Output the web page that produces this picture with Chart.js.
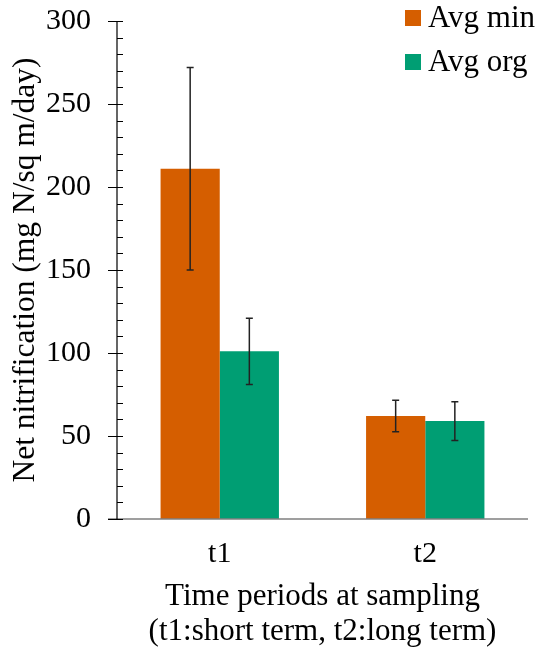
<!DOCTYPE html>
<html>
<head>
<meta charset="utf-8">
<script src="https://cdn.jsdelivr.net/npm/chart.js@4/dist/chart.umd.min.js"></script>
<style>
    body { margin: 0; background: #fff; }
    #wrap { width: 541px; height: 649px; }
</style>
</head>
<body>
<div id="wrap"><canvas id="nitChart"></canvas></div>
<script>
// values
const periods = ['t1', 't2'];
const seriesNames = ['Avg min', 'Avg org'];
const avgMin = [211, 62];
const avgOrg = [101, 59];
const errMin = [61, 9.5];
const errOrg = [20, 11.7];
const yTicks = [0, 50, 100, 150, 200, 250, 300];

const colMin = '#D55E00';
const colOrg = '#009E73';
const serif = "'Liberation Serif', 'Times New Roman', serif";

// error bars on top of the bars
const errorBars = {
    id: 'errorBars',
    afterDatasetsDraw(chart) {
        const ctx = chart.ctx;
        const y = chart.scales.y;
        const errs = [errMin, errOrg];
        ctx.save();
        ctx.strokeStyle = '#222';
        ctx.lineWidth = 1.5;
        chart.data.datasets.forEach((ds, i) => {
            const meta = chart.getDatasetMeta(i);
            meta.data.forEach((bar, j) => {
                const top = y.getPixelForValue(ds.data[j] + errs[i][j]);
                const bot = y.getPixelForValue(ds.data[j] - errs[i][j]);
                ctx.beginPath();
                ctx.moveTo(bar.x, top); ctx.lineTo(bar.x, bot);
                ctx.moveTo(bar.x - 3.5, top); ctx.lineTo(bar.x + 3.5, top);
                ctx.moveTo(bar.x - 3.5, bot); ctx.lineTo(bar.x + 3.5, bot);
                ctx.stroke();
            });
        });
        ctx.restore();
    }
};

// axis lines, major/minor ticks and the legend box
const axisDeco = {
    id: 'axisDeco',
    afterDraw(chart) {
        const ctx = chart.ctx;
        const area = chart.chartArea;
        const y = chart.scales.y;
        ctx.save();
        // x axis line (grey, runs a bit left of the y axis)
        ctx.strokeStyle = '#7f7f7f';
        ctx.lineWidth = 1.5;
        ctx.beginPath();
        ctx.moveTo(area.left - 9, area.bottom);
        ctx.lineTo(area.right, area.bottom);
        ctx.stroke();
        // y axis line and ticks
        ctx.strokeStyle = '#000';
        ctx.lineWidth = 1.2;
        ctx.beginPath();
        ctx.moveTo(area.left, area.top);
        ctx.lineTo(area.left, area.bottom);
        for (let v = 0; v <= 300; v += 10) {
            const py = Math.round(y.getPixelForValue(v)) + 0.5;
            if (v % 50 === 0) {
                ctx.moveTo(area.left - 9, py); ctx.lineTo(area.left + 6, py);
            } else {
                ctx.moveTo(area.left, py); ctx.lineTo(area.left + 6, py);
            }
        }
        ctx.stroke();
        // legend
        ctx.font = '31px ' + serif;
        ctx.textBaseline = 'middle';
        const cols = [colMin, colOrg];
        seriesNames.forEach((name, i) => {
            const cy = 18 + i * 44;
            ctx.fillStyle = cols[i];
            ctx.fillRect(405, cy - 8, 16, 16);
            ctx.fillStyle = '#000';
            ctx.fillText(name, 428, cy + 1);
        });
        ctx.restore();
    }
};

new Chart(document.getElementById('nitChart'), {
    type: 'bar',
    data: {
        labels: periods,
        datasets: [
            { label: seriesNames[0], data: avgMin, backgroundColor: colMin },
            { label: seriesNames[1], data: avgOrg, backgroundColor: colOrg }
        ]
    },
    options: {
        responsive: true,
        maintainAspectRatio: false,
        animation: false,
        layout: { padding: { top: 21, right: 13, left: 0, bottom: 0 } },
        datasets: { bar: { categoryPercentage: 0.576, barPercentage: 1.0 } },
        plugins: {
            legend: { display: false },
            tooltip: { enabled: false }
        },
        scales: {
            x: {
                afterFit: (axis) => { axis.height = 130; },
                grid: { display: false, drawTicks: false },
                border: { display: false },
                ticks: { color: '#000', font: { family: serif, size: 30 }, padding: 17 },
                title: {
                    display: true,
                    text: ['Time periods at sampling', '(t1:short term, t2:long term)'],
                    color: '#000',
                    font: { family: serif, size: 31, lineHeight: 1.13 },
                    padding: { top: 8, bottom: 0 }
                }
            },
            y: {
                min: 0,
                max: 300,
                afterBuildTicks: (axis) => { axis.ticks = yTicks.map(v => ({ value: v })); },
                afterFit: (axis) => { axis.width = 117; axis.paddingTop = 0; axis.paddingBottom = 0; },
                grid: { display: false, drawTicks: false },
                border: { display: false },
                ticks: { color: '#000', font: { family: serif, size: 30 }, padding: 26 },
                title: {
                    display: true,
                    text: 'Net nitrification (mg N/sq m/day)',
                    color: '#000',
                    font: { family: serif, size: 31.5 },
                    padding: { top: 7, bottom: 0 }
                }
            }
        }
    },
    plugins: [errorBars, axisDeco]
});
</script>
</body>
</html>
